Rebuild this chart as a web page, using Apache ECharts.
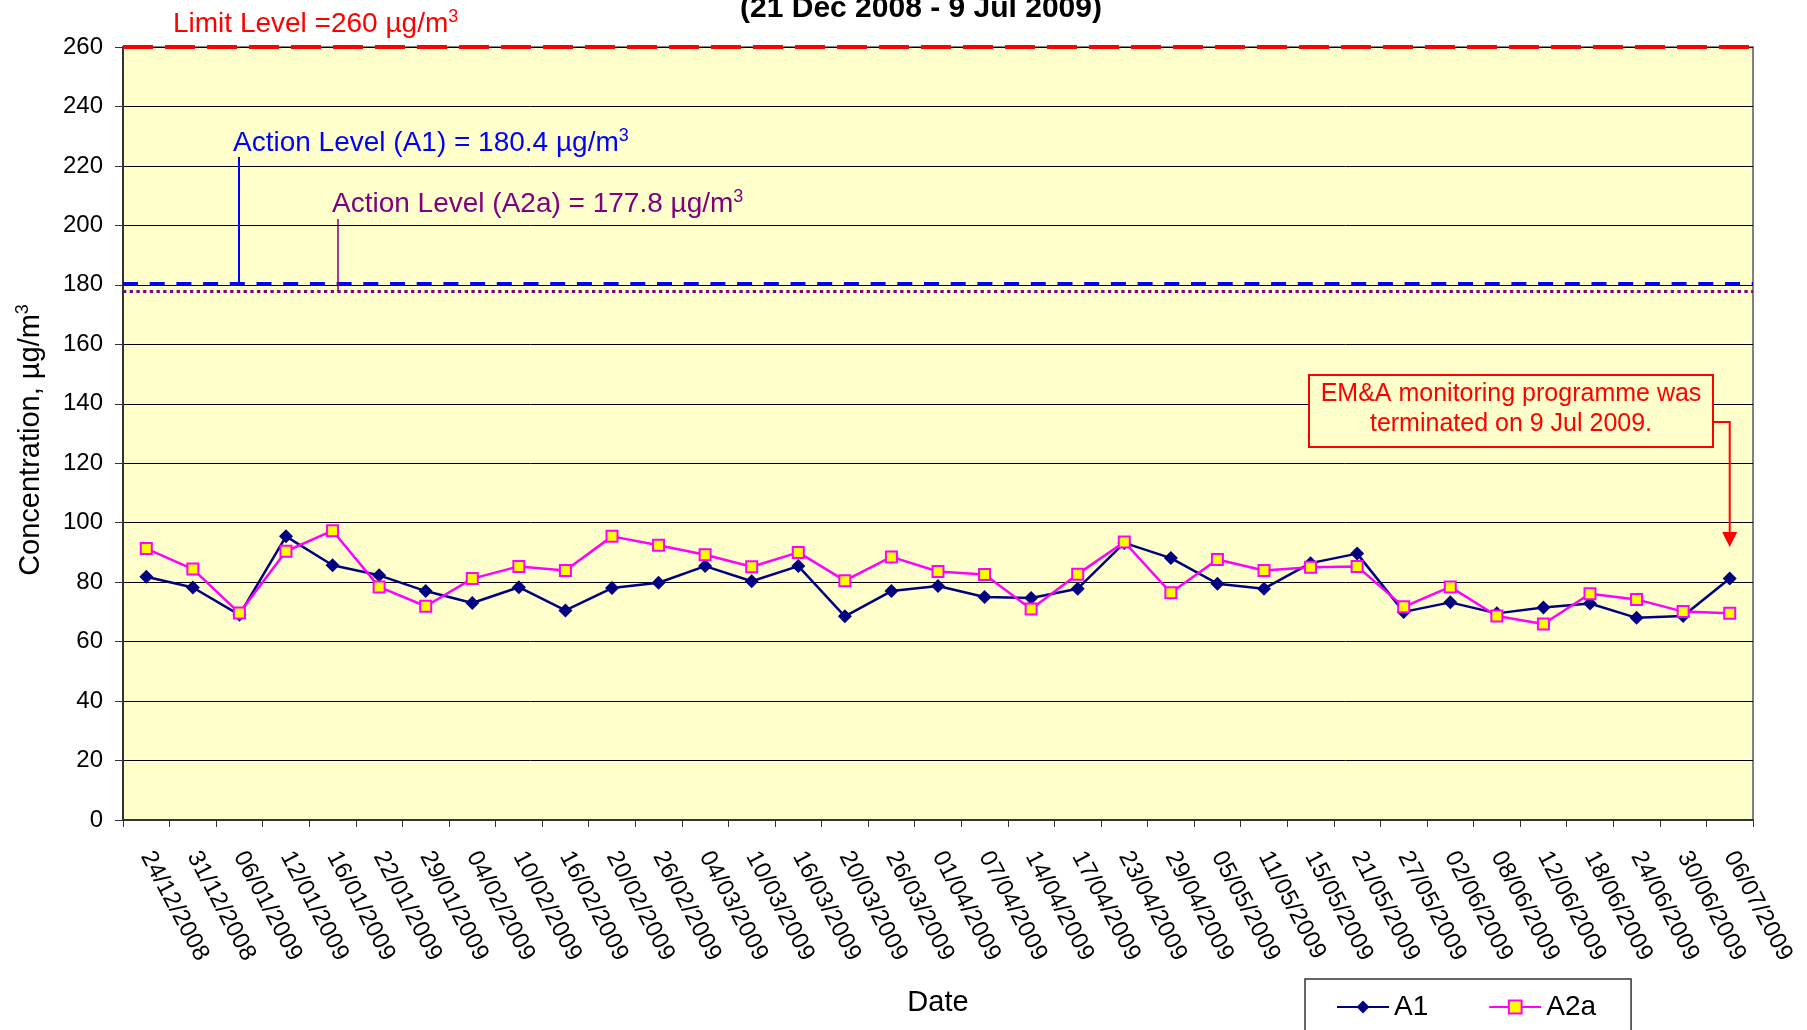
<!DOCTYPE html>
<html>
<head>
<meta charset="utf-8">
<script src="https://cdn.jsdelivr.net/npm/echarts@6/dist/echarts.min.js"></script>
<style>
html,body{margin:0;padding:0;background:#fff;}
#chart{width:1807px;height:1030px;}
</style>
</head>
<body>
<div id="chart"></div>
<script>
const categories = ['24/12/2008','31/12/2008','06/01/2009','12/01/2009','16/01/2009','22/01/2009','29/01/2009','04/02/2009','10/02/2009','16/02/2009','20/02/2009','26/02/2009','04/03/2009','10/03/2009','16/03/2009','20/03/2009','26/03/2009','01/04/2009','07/04/2009','14/04/2009','17/04/2009','23/04/2009','29/04/2009','05/05/2009','11/05/2009','15/05/2009','21/05/2009','27/05/2009','02/06/2009','08/06/2009','12/06/2009','18/06/2009','24/06/2009','30/06/2009','06/07/2009'];
const seriesA1 = [81.8,78.2,69.0,95.4,85.7,82.3,77.0,73.0,78.3,70.5,78.0,79.8,85.4,80.3,85.4,68.5,77.0,78.7,75.0,74.7,77.8,93.2,88.1,79.5,77.8,86.4,89.6,70.0,73.2,69.5,71.5,72.8,68.0,68.6,81.2];
const seriesA2a = [91.3,84.4,69.6,90.4,97.3,78.4,71.9,81.2,85.3,83.9,95.4,92.4,89.2,85.2,90.0,80.5,88.5,83.6,82.6,71.0,82.7,93.5,76.4,87.6,83.9,85.0,85.3,71.7,78.4,68.6,65.9,76.1,74.2,70.1,69.5];
const limitLevel = 260;
const actionA1 = 180.4;
const actionA2a = 177.8;
const yTicks = {min:0, max:260, interval:20};

const FF = '"Liberation Sans", Arial, Helvetica, sans-serif';
const chart = echarts.init(document.getElementById('chart'), null, {renderer:'canvas'});

function supRich(size, color, supSize) {
  return {
    m:{fontSize:size, fontFamily:FF, fill:color, color:color, lineHeight:size+4},
    s:{fontSize:supSize, fontFamily:FF, fill:color, color:color, lineHeight:supSize, verticalAlign:'top'}
  };
}

const option = {
  backgroundColor:'#ffffff',
  animation:false,
  textStyle:{fontFamily:FF},
  grid:{left:123, right:54, top:47, bottom:210, containLabel:false, outerBoundsMode:'none', show:true, backgroundColor:'#FFFFCC', borderColor:'#808080', borderWidth:2},
  legend:{
    left:1305, top:979, orient:'horizontal',
    padding:[14,35,40,31],
    itemWidth:52, itemHeight:16, itemGap:60,
    borderColor:'#333', borderWidth:1.5,
    textStyle:{fontSize:28, color:'#000', fontFamily:FF},
    data:['A1','A2a']
  },
  xAxis:{
    type:'category', data:categories, boundaryGap:true,
    name:'Date', nameLocation:'middle', nameGap:168,
    nameTextStyle:{fontSize:29, color:'#000', fontFamily:FF},
    axisLine:{lineStyle:{color:'#333', width:2}},
    axisTick:{show:true, interval:0, length:7, lineStyle:{color:'#333', width:1}},
    axisLabel:{interval:0, rotate:-62, fontSize:24, color:'#000', margin:33, fontFamily:FF},
    splitLine:{show:false}
  },
  yAxis:{
    type:'value', min:yTicks.min, max:yTicks.max, interval:yTicks.interval,
    axisLine:{show:true, lineStyle:{color:'#333', width:2}},
    axisTick:{show:true, length:8, lineStyle:{color:'#333', width:1}},
    axisLabel:{fontSize:24, color:'#000', margin:20, fontFamily:FF},
    splitLine:{show:true, lineStyle:{color:'#000', width:1}}
  },
  series:[
    {
      name:'A1', type:'line', data:seriesA1,
      symbol:'diamond', symbolSize:14,
      lineStyle:{color:'#000080', width:2.5},
      itemStyle:{color:'#000080'},
      z:3,
      markLine:{
        silent:true, symbol:['none','none'], label:{show:false},
        data:[
          {yAxis:limitLevel, lineStyle:{color:'#FF0000', width:4, type:[30,12]}},
          {yAxis:actionA1, lineStyle:{color:'#0000FF', width:4, type:[15,11.7]}},
          {yAxis:actionA2a, lineStyle:{color:'#800080', width:3, type:[3.3,3.4]}}
        ]
      }
    },
    {
      name:'A2a', type:'line', data:seriesA2a,
      symbol:'rect', symbolSize:11,
      lineStyle:{color:'#FF00FF', width:2.5},
      itemStyle:{color:'#FFFF00', borderColor:'#FF00FF', borderWidth:2},
      z:4
    }
  ]
};
chart.setOption(option);

const yA1 = chart.convertToPixel({yAxisIndex:0}, actionA1);
const yA2 = chart.convertToPixel({yAxisIndex:0}, actionA2a);
const xLast = chart.convertToPixel({xAxisIndex:0}, categories[categories.length-1]);

chart.setOption({
  graphic:[
    {type:'text', z:10, style:{text:'(21 Dec 2008 - 9 Jul 2009)', x:921, y:8.5, align:'center', verticalAlign:'middle', font:'bold 30px '+FF, fill:'#000'}},
    {type:'text', z:10, x:31, y:440, rotation:Math.PI/2, style:{text:'{m|Concentration, µg/m}{s|3}', x:0, y:0, align:'center', verticalAlign:'middle', rich:supRich(29,'#000',18), fill:'#000'}},
    {type:'text', z:10, style:{text:'{m|Limit Level =260 µg/m}{s|3}', x:173, y:24, align:'left', verticalAlign:'middle', rich:supRich(28,'#FF0000',18), fill:'#FF0000'}},
    {type:'text', z:10, style:{text:'{m|Action Level (A1) = 180.4 µg/m}{s|3}', x:233, y:143, align:'left', verticalAlign:'middle', rich:supRich(28,'#0000FF',18), fill:'#0000FF'}},
    {type:'text', z:10, style:{text:'{m|Action Level (A2a) = 177.8 µg/m}{s|3}', x:332, y:204, align:'left', verticalAlign:'middle', rich:supRich(28,'#800080',18), fill:'#800080'}},
    {type:'line', z:10, shape:{x1:239, y1:157, x2:239, y2:yA1}, style:{stroke:'#0000FF', lineWidth:2}},
    {type:'line', z:10, shape:{x1:338, y1:219, x2:338, y2:yA2}, style:{stroke:'#800080', lineWidth:1.5}},
    {type:'rect', z:10, shape:{x:1309, y:375, width:404, height:72}, style:{fill:'#FFFFCC', stroke:'#FF0000', lineWidth:2}},
    {type:'text', z:11, style:{text:'EM&A monitoring programme was\nterminated on 9 Jul 2009.', x:1511, y:409, align:'center', verticalAlign:'middle', lineHeight:30, font:'25px '+FF, fill:'#FF0000'}},
    {type:'polyline', z:10, shape:{points:[[1713,422],[xLast,422],[xLast,534]]}, style:{stroke:'#FF0000', lineWidth:2, fill:null}},
    {type:'polygon', z:10, shape:{points:[[xLast-7.5,532],[xLast+7.5,532],[xLast,547]]}, style:{fill:'#FF0000'}}
  ]
});
</script>
</body>
</html>
